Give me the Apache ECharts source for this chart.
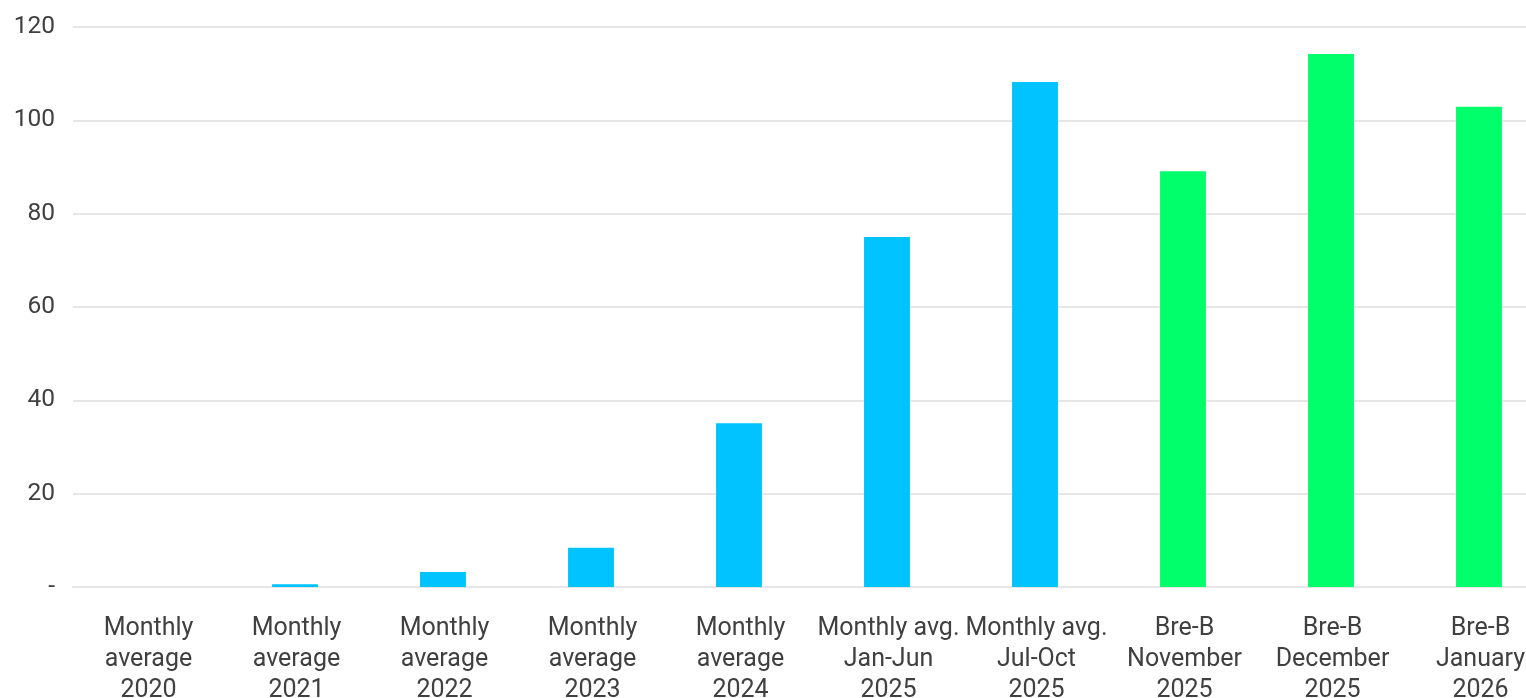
<!DOCTYPE html>
<html>
<head>
<meta charset="utf-8">
<script src="https://cdn.jsdelivr.net/npm/echarts@6/dist/echarts.min.js"></script>
<style>
html,body{margin:0;padding:0;background:#fff;}
#chart{width:1526px;height:698px;}
</style>
</head>
<body>
<div id="chart"></div>
<script>
const categories = [
  "Monthly\naverage\n2020",
  "Monthly\naverage\n2021",
  "Monthly\naverage\n2022",
  "Monthly\naverage\n2023",
  "Monthly\naverage\n2024",
  "Monthly avg.\nJan-Jun\n2025",
  "Monthly avg.\nJul-Oct\n2025",
  "Bre-B\nNovember\n2025",
  "Bre-B\nDecember\n2025",
  "Bre-B\nJanuary\n2026"
];
const historicalValues = [0, 0.6, 3.2, 8.4, 35.1, 75.0, 108.2, null, null, null];
const breBValues = [null, null, null, null, null, null, null, 89.1, 114.2, 102.9];
const yTicks = { min: 0, max: 120, interval: 20 };

const chart = echarts.init(document.getElementById('chart'), null, {renderer: 'canvas'});
chart.setOption({
  animation: false,
  backgroundColor: '#ffffff',
  grid: { left: 73, width: 1480, top: 27, height: 560, containLabel: false, outerBoundsMode: 'none' },
  xAxis: {
    type: 'category',
    data: categories,
    axisLine: { show: true, lineStyle: { color: '#e6e6e6', width: 2 } },
    axisTick: { show: false },
    axisLabel: {
      interval: 0,
      color: '#404040',
      fontFamily: 'Roboto',
      fontSize: 25,
      lineHeight: 31,
      margin: 26,
      padding: [0, 0, 0, 3]
    }
  },
  yAxis: {
    type: 'value',
    min: yTicks.min,
    max: yTicks.max,
    interval: yTicks.interval,
    axisLine: { show: false },
    axisTick: { show: false },
    splitLine: { lineStyle: { color: '#e6e6e6', width: 2 } },
    axisLabel: {
      color: '#404040',
      fontFamily: 'Roboto',
      fontSize: 24.5,
      margin: 18,
      formatter: v => v === 0 ? '-' : String(v)
    }
  },
  series: [
    {
      name: 'Historical',
      type: 'bar',
      stack: 'total',
      data: historicalValues,
      barWidth: '31%',
      itemStyle: { color: '#00C3FF' }
    },
    {
      name: 'Bre-B',
      type: 'bar',
      stack: 'total',
      data: breBValues,
      barWidth: '31%',
      itemStyle: { color: '#00FF6B' }
    }
  ]
});
</script>
</body>
</html>
